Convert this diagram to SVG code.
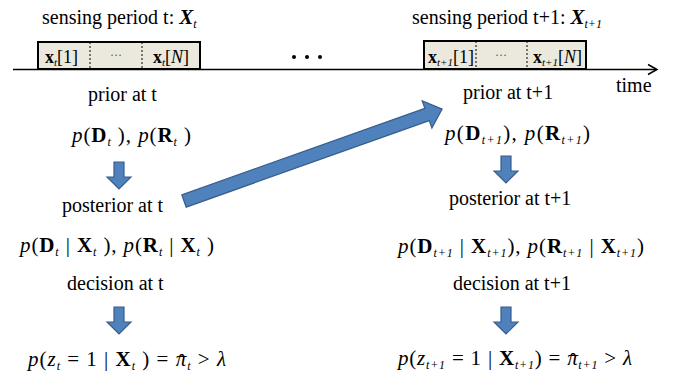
<svg xmlns="http://www.w3.org/2000/svg" width="686" height="374" viewBox="0 0 686 374">
<style>
text{font-family:"Liberation Serif","Times New Roman",serif;fill:#000;}
.lbl{font-size:20px;}
.m{font-size:21px;}
.bx{font-size:18px;}
.dots{font-size:12px;fill:#555;}
.i{font-style:italic;}
.b{font-weight:bold;}
.bi{font-weight:bold;font-style:italic;}
.s{font-size:12px;font-style:italic;}
.sb{font-size:11px;font-style:italic;}
.blk{fill:#EBE9DD;stroke:#000;stroke-width:2;}
.dv{stroke:#000;stroke-width:1;stroke-dasharray:2,2;}
.axis{stroke:#000;stroke-width:1.5;fill:none;}
.arr{fill:#4F81BD;stroke:#385D8A;stroke-width:1.2;}
</style>
<defs>
<path id="dn" d="M-5,0 H5 V15 H12 L0,27 L-12,15 H-5 Z"/>
</defs>
<rect width="686" height="374" fill="#fff"/>

<g id="timeline">
<line class="axis" x1="13" y1="69.5" x2="656" y2="69.5"/>
<polyline class="axis" points="648,64.5 657,69.5 648,74.5"/>
<text class="lbl" x="616" y="92">time</text>
<circle cx="294" cy="57" r="2" fill="#000"/>
<circle cx="307" cy="57" r="2" fill="#000"/>
<circle cx="320" cy="57" r="2" fill="#000"/>
</g>

<g id="period-t">
<text class="lbl" x="42" y="24">sensing period t: <tspan class="bi" font-size="21">X</tspan><tspan class="s" dy="4">t</tspan></text>
<rect class="blk" x="38" y="42" width="162" height="27"/>
<line class="dv" x1="90" y1="42" x2="90" y2="69"/>
<line class="dv" x1="142" y1="42" x2="142" y2="69"/>
<text class="bx" x="45" y="63"><tspan class="b">x</tspan><tspan class="sb" dy="3">t</tspan><tspan dy="-3">[1]</tspan></text>
<text class="dots" x="116" y="59" text-anchor="middle">&#183;&#183;&#183;</text>
<text class="bx" x="153" y="63"><tspan class="b">x</tspan><tspan class="sb" dy="3">t</tspan><tspan dy="-3">[</tspan><tspan class="i">N</tspan>]</text>
</g>

<g id="period-t1">
<text class="lbl" x="412" y="24">sensing period t+1: <tspan class="bi" font-size="21">X</tspan><tspan class="s" dy="4">t+1</tspan></text>
<rect class="blk" x="424" y="41" width="162" height="28"/>
<line class="dv" x1="476" y1="41" x2="476" y2="69"/>
<line class="dv" x1="527" y1="41" x2="527" y2="69"/>
<text class="bx" x="428" y="63"><tspan class="b">x</tspan><tspan class="sb" dy="3">t+1</tspan><tspan dy="-3">[1]</tspan></text>
<text class="dots" x="501" y="59" text-anchor="middle">&#183;&#183;&#183;</text>
<text class="bx" x="533" y="63"><tspan class="b">x</tspan><tspan class="sb" dy="3">t+1</tspan><tspan dy="-3">[</tspan><tspan class="i">N</tspan>]</text>
</g>

<g id="prior-t">
<text class="lbl" x="88" y="101">prior at t</text>
<text class="m" x="72" y="142" textLength="119" lengthAdjust="spacing"><tspan class="i">p</tspan>(<tspan class="b">D</tspan><tspan class="s" dy="4">t</tspan><tspan dy="-4"> ), </tspan><tspan class="i">p</tspan>(<tspan class="b">R</tspan><tspan class="s" dy="4">t</tspan><tspan dy="-4"> )</tspan></text>
</g>

<g id="posterior-t">
<text class="lbl" x="62" y="212">posterior at t</text>
<text class="m" x="20" y="252" textLength="194" lengthAdjust="spacing"><tspan class="i">p</tspan>(<tspan class="b">D</tspan><tspan class="s" dy="4">t</tspan><tspan dy="-4"> | </tspan><tspan class="b">X</tspan><tspan class="s" dy="4">t</tspan><tspan dy="-4"> ), </tspan><tspan class="i">p</tspan>(<tspan class="b">R</tspan><tspan class="s" dy="4">t</tspan><tspan dy="-4"> | </tspan><tspan class="b">X</tspan><tspan class="s" dy="4">t</tspan><tspan dy="-4"> )</tspan></text>
</g>

<g id="decision-t">
<text class="lbl" x="67" y="290">decision at t</text>
<text class="m" x="28" y="366" textLength="198" lengthAdjust="spacing"><tspan class="i">p</tspan>(<tspan class="i">z</tspan><tspan class="s" dy="4">t</tspan><tspan dy="-4"> = 1 | </tspan><tspan class="b">X</tspan><tspan class="s" dy="4">t</tspan><tspan dy="-4"> ) = </tspan><tspan class="i">&#960;</tspan><tspan dx="-9" dy="3">&#710;</tspan><tspan class="s" dx="1" dy="1">t</tspan><tspan dy="-4"> &gt; </tspan><tspan class="i">&#955;</tspan></text>
</g>

<g id="prior-t1">
<text class="lbl" x="463" y="99">prior at t+1</text>
<text class="m" x="445" y="140" textLength="145" lengthAdjust="spacing"><tspan class="i">p</tspan>(<tspan class="b">D</tspan><tspan class="s" dy="4">t+1</tspan><tspan dy="-4">), </tspan><tspan class="i">p</tspan>(<tspan class="b">R</tspan><tspan class="s" dy="4">t+1</tspan><tspan dy="-4">)</tspan></text>
</g>

<g id="posterior-t1">
<text class="lbl" x="449" y="205">posterior at t+1</text>
<text class="m" x="398" y="253" textLength="246" lengthAdjust="spacing"><tspan class="i">p</tspan>(<tspan class="b">D</tspan><tspan class="s" dy="4">t+1</tspan><tspan dy="-4"> | </tspan><tspan class="b">X</tspan><tspan class="s" dy="4">t+1</tspan><tspan dy="-4">), </tspan><tspan class="i">p</tspan>(<tspan class="b">R</tspan><tspan class="s" dy="4">t+1</tspan><tspan dy="-4"> | </tspan><tspan class="b">X</tspan><tspan class="s" dy="4">t+1</tspan><tspan dy="-4">)</tspan></text>
</g>

<g id="decision-t1">
<text class="lbl" x="453" y="290">decision at t+1</text>
<text class="m" x="398" y="365" textLength="234" lengthAdjust="spacing"><tspan class="i">p</tspan>(<tspan class="i">z</tspan><tspan class="s" dy="4">t+1</tspan><tspan dy="-4"> = 1 | </tspan><tspan class="b">X</tspan><tspan class="s" dy="4">t+1</tspan><tspan dy="-4">) = </tspan><tspan class="i">&#960;</tspan><tspan dx="-9" dy="3">&#710;</tspan><tspan class="s" dx="1" dy="1">t+1</tspan><tspan dy="-4"> &gt; </tspan><tspan class="i">&#955;</tspan></text>
</g>

<g id="connectors">
<path class="arr" transform="translate(184,201) rotate(-19.6)" d="M0,-6.5 H258 V-14.5 L274,0 L258,14.5 V6.5 H0 Z"/>
<use href="#dn" class="arr" transform="translate(119,162)"/>
<use href="#dn" class="arr" transform="translate(119,307)"/>
<use href="#dn" class="arr" transform="translate(506,156)"/>
<use href="#dn" class="arr" transform="translate(506,307)"/>
</g>
</svg>
